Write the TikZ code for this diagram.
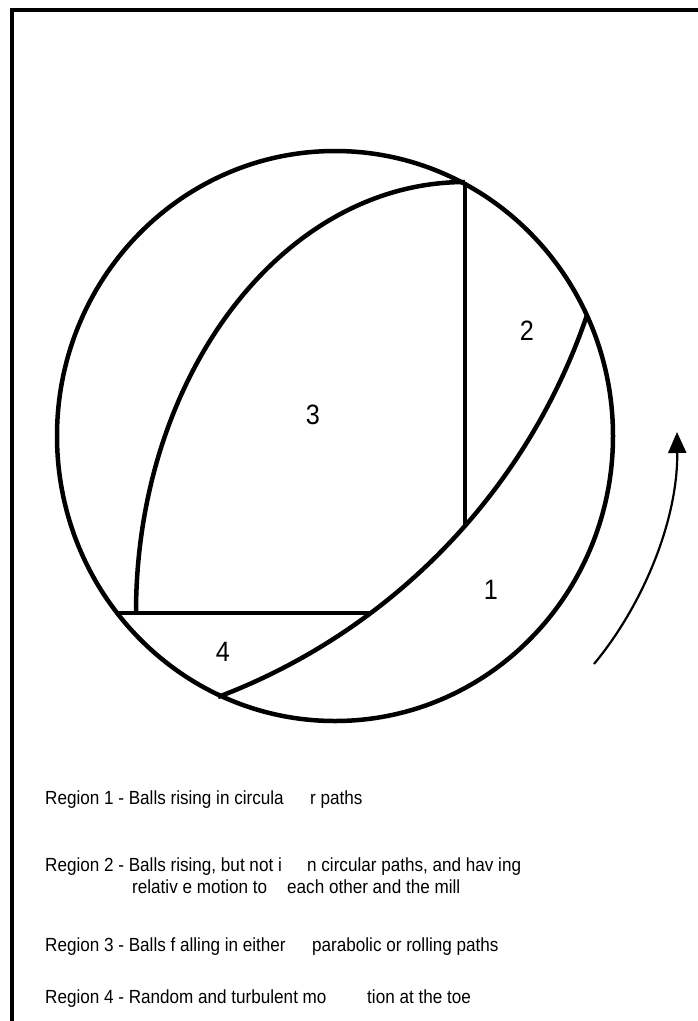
\documentclass[tikz,border=0pt]{standalone}
\usepackage{fontspec}
\setmainfont{Liberation Sans}
\usetikzlibrary{arrows.meta}

\newcommand{\narrowtext}[1]{\scalebox{0.9}[1]{#1}}

\begin{document}
\begin{tikzpicture}[x=1pt, y=-1pt,
    wall/.style={line width=4.5pt},
    legend/.style={inner sep=0pt, anchor=base west, font=\fontsize{19}{22}\selectfont},
    region/.style={inner sep=0pt, font=\fontsize{28}{32}\selectfont}]
    \useasboundingbox (0,0) rectangle (698,1021);
    \clip (0,0) rectangle (698,1021);

    % frame, cut by the page on the right and at the bottom
    \draw[wall] (12,10) rectangle (760,1080);

    % mill shell
    \coordinate (centre) at (335,436);
    \draw[wall] (centre) ellipse[x radius=278, y radius=285];

    \coordinate (shoulder) at (465,182); % top of the vertical line
    \coordinate (kidney) at (465,527);
    \coordinate (toe) at (218,697);
    \coordinate (rim) at (587,315);
    \coordinate (heel) at (118,613);
    \coordinate (foot) at (371,613);

    % region boundaries
    \draw[wall] (toe) arc[start angle=69.24, end angle=18.77, radius=623];
    \draw[wall] (shoulder) arc[start angle=270, end angle=180, x radius=329, y radius=431];
    \draw[wall] (shoulder) -- (kidney);
    \draw[wall] (heel) -- (foot);

    % region numbers
    \node[region] (n1) at (491,590) {\narrowtext{1}};
    \node[region] (n2) at (527,331) {\narrowtext{2}};
    \node[region] (n3) at (313,415) {\narrowtext{3}};
    \node[region] (n4) at (223,652) {\narrowtext{4}};

    % direction of rotation
    \coordinate (tail) at (594,664);
    \coordinate (head) at (677,432);
    \draw[line width=2.2pt, -{Triangle[length=21pt, width=18pt]}]
        (tail) .. controls (643,605) and (678,520) .. (head);

    % legend
    \node[legend] (r1a) at (45,804) {\narrowtext{Region 1 - Balls rising in circula}};
    \node[legend] (r1b) at (310,804) {\narrowtext{r paths}};
    \node[legend] (r2a) at (45,871) {\narrowtext{Region 2 - Balls rising, but not i}};
    \node[legend] (r2b) at (307,871) {\narrowtext{n circular paths, and hav ing}};
    \node[legend] (r2c) at (132,893) {\narrowtext{relativ e motion to}};
    \node[legend] (r2d) at (287,893) {\narrowtext{each other and the mill}};
    \node[legend] (r3a) at (45,951) {\narrowtext{Region 3 - Balls f alling in either}};
    \node[legend] (r3b) at (312,951) {\narrowtext{parabolic or rolling paths}};
    \node[legend] (r4a) at (45,1003) {\narrowtext{Region 4 - Random and turbulent mo}};
    \node[legend] (r4b) at (367,1003) {\narrowtext{tion at the toe}};
\end{tikzpicture}
\end{document}
